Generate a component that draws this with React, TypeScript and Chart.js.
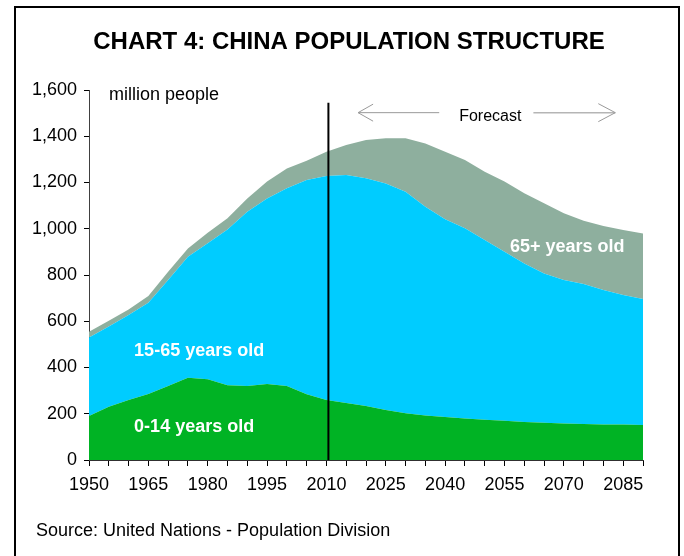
import React, { useEffect, useRef } from "react";
import { Chart, registerables } from "chart.js";

Chart.register(...registerables);

const years = [
  1950, 1955, 1960, 1965, 1970, 1975, 1980, 1985, 1990, 1995, 2000, 2005, 2010, 2015, 2020,
  2025, 2030, 2035, 2040, 2045, 2050, 2055, 2060, 2065, 2070, 2075, 2080, 2085, 2090,
];
const age0to14 = [
  190, 230, 260, 285, 320, 356, 349, 323, 320, 329, 320, 284, 260, 246, 233,
  216, 202, 192, 186, 180, 174, 170, 164, 161, 158, 156, 154, 153, 151,
];
const age15to65 = [
  340, 347, 367, 395, 458, 523, 588, 674, 754, 802, 855, 927, 968, 986, 985,
  980, 958, 903, 855, 822, 777, 731, 686, 646, 620, 605, 581, 561, 545,
];
const age65plus = [
  25, 25, 24, 29, 36, 36, 46, 48, 57, 73, 86, 83, 105, 130, 166,
  195, 231, 274, 292, 295, 296, 303, 303, 303, 289, 274, 277, 281, 284,
];
const seriesNames = ["0-14 years old", "15-65 years old", "65+ years old"];
const yTicks = [0, 200, 400, 600, 800, 1000, 1200, 1400, 1600];
const xLabelYears = [1950, 1965, 1980, 1995, 2010, 2025, 2040, 2055, 2070, 2085];

const forecastLineYear = 2010.5;
const forecastLineTop = 1545;

const COLORS = ["#00B324", "#00CCFF", "#8EAF9E"];
const FONT = "'Liberation Sans', Arial, sans-serif";

const annotPlugin = {
  id: "annot",
  beforeDraw(chart: any) {
    const ctx = chart.ctx;
    ctx.save();
    ctx.fillStyle = "#ffffff";
    ctx.fillRect(0, 0, chart.width, chart.height);
    ctx.strokeStyle = "#000";
    ctx.lineWidth = 2;
    ctx.strokeRect(15, 7, 664, 560);
    ctx.fillStyle = "#000";
    ctx.font = `bold 24px ${FONT}`;
    ctx.textAlign = "center";
    ctx.textBaseline = "middle";
    ctx.fillText("CHART 4: CHINA POPULATION STRUCTURE", 349, 42);
    ctx.font = `18px ${FONT}`;
    ctx.textAlign = "left";
    ctx.fillText("million people", 109, 95);
    ctx.fillText("Source: United Nations - Population Division", 36, 531);
    ctx.restore();
  },
  afterDatasetsDraw(chart: any) {
    const ctx = chart.ctx;
    const xs = chart.scales.x;
    const ys = chart.scales.y;
    const area = chart.chartArea;
    ctx.save();
    // forecast divider
    const lx = xs.getPixelForValue(forecastLineYear);
    ctx.strokeStyle = "#000";
    ctx.lineWidth = 2;
    ctx.beginPath();
    ctx.moveTo(lx, ys.getPixelForValue(forecastLineTop));
    ctx.lineTo(lx, area.bottom);
    ctx.stroke();

    // forecast arrows
    const ay = ys.getPixelForValue(1502);
    const l1 = xs.getPixelForValue(2018);
    const l2 = xs.getPixelForValue(2038.5);
    const r1 = xs.getPixelForValue(2062.3);
    const r2 = xs.getPixelForValue(2083);
    ctx.strokeStyle = "#9a9a9a";
    ctx.lineWidth = 1;
    ctx.beginPath();
    ctx.moveTo(l2, ay);
    ctx.lineTo(l1, ay);
    ctx.moveTo(l1 + 15, ay - 8.5);
    ctx.lineTo(l1, ay);
    ctx.lineTo(l1 + 15, ay + 8.5);
    ctx.stroke();
    ctx.strokeStyle = "#b5b5b5";
    ctx.lineWidth = 1.5;
    ctx.beginPath();
    ctx.moveTo(r1, ay);
    ctx.lineTo(r2, ay);
    ctx.stroke();
    ctx.strokeStyle = "#9a9a9a";
    ctx.lineWidth = 1;
    ctx.beginPath();
    ctx.moveTo(r2 - 17, ay - 9);
    ctx.lineTo(r2, ay);
    ctx.lineTo(r2 - 17, ay + 9);
    ctx.stroke();
    ctx.fillStyle = "#000";
    ctx.font = `16px ${FONT}`;
    ctx.textAlign = "center";
    ctx.textBaseline = "middle";
    ctx.fillText("Forecast", xs.getPixelForValue(2051.4), ys.getPixelForValue(1485));

    // series labels
    ctx.fillStyle = "#ffffff";
    ctx.font = `bold 18px ${FONT}`;
    ctx.textAlign = "left";
    ctx.fillText(seriesNames[1], xs.getPixelForValue(1961.4), ys.getPixelForValue(471));
    ctx.fillText(seriesNames[0], xs.getPixelForValue(1961.4), ys.getPixelForValue(143));
    ctx.fillText(seriesNames[2], xs.getPixelForValue(2056.4), ys.getPixelForValue(921));
    ctx.restore();
  },
};

export default function App() {
  const ref = useRef<HTMLCanvasElement | null>(null);
  useEffect(() => {
    if (!ref.current) return;
    const mk = (vals: number[], i: number) => ({
      label: seriesNames[i],
      data: years.map((y, k) => ({ x: y, y: vals[k] })),
      backgroundColor: COLORS[i],
      borderColor: COLORS[i],
      borderWidth: 0,
      pointRadius: 0,
      tension: 0,
      fill: i === 0 ? "origin" : "-1",
    });
    const chart = new Chart(ref.current, {
      type: "line",
      data: {
        datasets: [mk(age0to14, 0), mk(age15to65, 1), mk(age65plus, 2)] as any,
      },
      options: {
        animation: false,
        responsive: false,
        maintainAspectRatio: false,
        layout: { padding: { top: 90, left: 0, right: 41, bottom: 56 } },
        plugins: {
          legend: { display: false },
          title: { display: false },
          tooltip: { enabled: false },
        },
        scales: {
          x: {
            type: "linear",
            min: 1950,
            max: 2090,
            afterFit: (s: any) => {
              s.height = 40;
            },
            grid: {
              display: true,
              drawOnChartArea: false,
              drawTicks: true,
              tickLength: 6,
              color: "#000",
            },
            border: { display: true, color: "#303030", width: 1 },
            ticks: {
              stepSize: 5,
              autoSkip: false,
              maxTicksLimit: 100,
              maxRotation: 0,
              padding: 8,
              color: "#000",
              font: { family: FONT, size: 18 },
              callback: (v: any) => (xLabelYears.includes(Number(v)) ? String(v) : ""),
            },
          },
          y: {
            stacked: true,
            min: yTicks[0],
            max: yTicks[yTicks.length - 1],
            afterFit: (s: any) => {
              s.width = 89;
            },
            afterBuildTicks: (s: any) => {
              s.ticks = yTicks.map((v) => ({ value: v }));
            },
            grid: {
              display: true,
              drawOnChartArea: false,
              drawTicks: true,
              tickLength: 5,
              color: "#000",
            },
            border: { display: true, color: "#404040", width: 1 },
            ticks: {
              padding: 7,
              color: "#000",
              font: { family: FONT, size: 18 },
              callback: (v: any) => Number(v).toLocaleString("en-US"),
            },
          },
        },
      },
      plugins: [annotPlugin],
    });
    return () => chart.destroy();
  }, []);
  return (
    <div style={{ position: "absolute", left: 0, top: 0, width: 684, height: 556 }}>
      <canvas ref={ref} width={684} height={556} style={{ width: 684, height: 556, display: "block" }} />
    </div>
  );
}
